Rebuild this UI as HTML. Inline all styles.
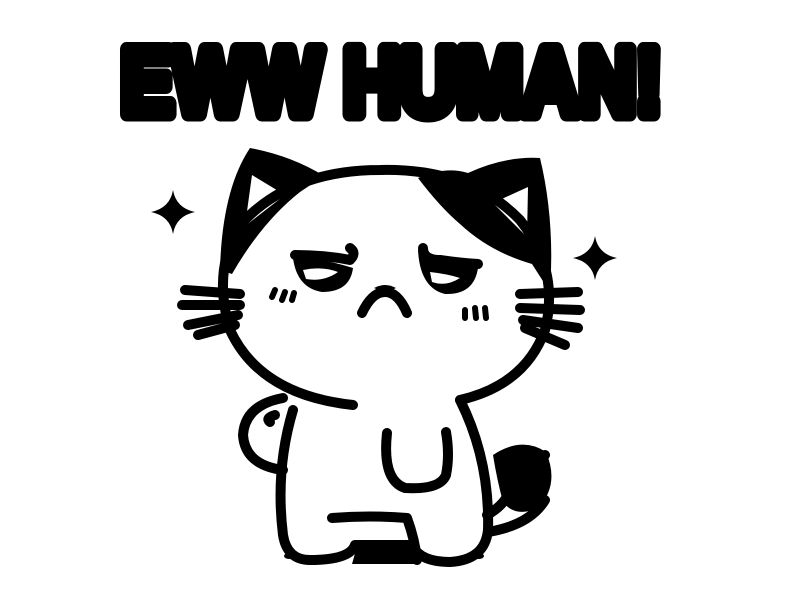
<!DOCTYPE html>
<html><head><style>html,body{margin:0;padding:0;background:#fff}svg{display:block}</style></head>
<body>
<svg width="800" height="613" viewBox="0 0 800 613" xmlns="http://www.w3.org/2000/svg">
<rect width="800" height="613" fill="#fff"/>
<text x="121" y="114" font-family="Liberation Sans, sans-serif" font-weight="bold" font-size="94" textLength="541" lengthAdjust="spacingAndGlyphs" fill="#000" stroke="#000" stroke-width="15" stroke-linejoin="round">EWW HUMAN!</text>
<g fill="#000">
<path d="M173 190 Q176 208 195 212 Q176 216 173 234 Q170 216 151 212 Q170 208 173 190Z"/>
<path d="M595 236 Q598 254 617 258 Q598 262 595 280 Q592 262 573 258 Q592 254 595 236Z"/>
<path d="M220 270 Q222 190 250 148 Q292 156 324 176 L300 192 Q262 222 232 274Z"/>
<path d="M418 178 Q445 166 468 173 Q505 156 540 158 Q555 220 550 292 L532 264 Q490 252 460 224 Q440 207 418 178Z"/>
<path d="M493 455 Q522 436 546 452 Q560 485 538 508 Q515 518 503 502 Q497 480 493 455Z"/>
<path d="M358 543 L410 543 L416 564 L352 564Z"/>
<path d="M293 258 Q322 258 353 268 Q350 292 322 292 Q297 288 293 258Z"/>
<path d="M418 250 Q442 262 478 268 Q474 295 445 294 Q420 288 418 250Z"/>
<ellipse cx="289" cy="556" rx="5" ry="3"/><ellipse cx="479" cy="556" rx="5" ry="3"/>
</g>
<g fill="#fff">
<path d="M245 226 L252 175 L285 195Z"/>
<path d="M493 203 L528 187 L527 237Z"/>
<path d="M303 270 Q322 266 338 272 Q324 282 306 279Z"/>
<path d="M430 272 Q448 274 460 278 Q446 287 432 282Z"/>
</g>
<g fill="none" stroke="#000" stroke-width="10" stroke-linecap="round" stroke-linejoin="round">
<path d="M353 405 Q260 395 230 330 Q212 270 240 225 Q290 170 380 170 Q470 168 520 220 Q560 270 545 330 Q525 385 460 400"/>
<path d="M293 410 Q275 470 283 535 Q287 560 310 560 Q350 560 355 545 L412 545 Q420 562 450 562 Q485 560 488 530 Q490 460 460 400"/>
<path d="M332 518 Q370 515 407 518 Q415 540 417 560"/>
<path d="M283 398 Q245 405 243 435 Q245 465 283 470"/>
<path d="M275 415 Q265 418 270 422"/>
<path d="M387 433 Q382 480 405 488 Q440 490 446 475 Q450 455 446 432"/>
<path d="M487 515 Q505 505 510 490 Q515 468 545 455"/>
<path d="M488 532 Q530 525 545 500"/>
<path d="M295 255 Q325 255 350 260 Q357 253 350 248"/>
<path d="M423 248 Q423 260 440 260 Q460 263 478 264"/>
<path d="M362 313 Q372 292 385 292 Q398 292 407 313"/>
<path d="M185 290 L240 294 M182 305 L240 305 M188 325 L238 315 M198 335 L235 325"/>
<path d="M520 294 L578 292 M520 308 L580 310 M523 320 L578 328 M525 328 L565 345"/>
</g>
<g fill="none" stroke="#000" stroke-width="6" stroke-linecap="round">
<path d="M272 297 L275 290 M282 300 L285 292 M292 300 L294 293 M465 310 L465 318 M475 308 L476 318 M485 308 L486 318"/>
</g>
<path d="M374 288 Q385 282 396 288 Q385 294 374 288Z" fill="#000"/>
</svg>
</body></html>
